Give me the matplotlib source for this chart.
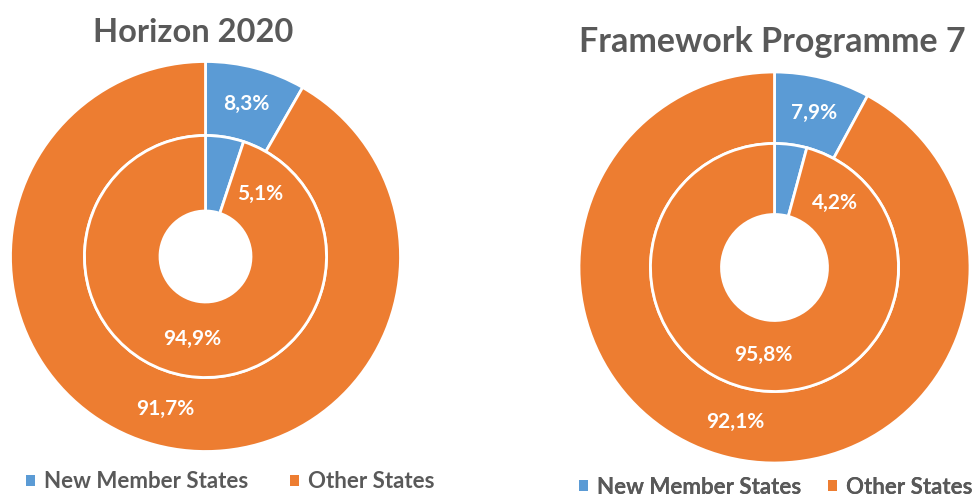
import numpy as np
import matplotlib
matplotlib.use("Agg")
import matplotlib.pyplot as plt
from matplotlib.patches import Patch

plt.rcParams['font.family'] = ['Lato', 'DejaVu Sans']

categories = ['New Member States', 'Other States']
titles = ['Horizon 2020', 'Framework Programme 7']
outer_vals = [[8.3, 91.7], [7.9, 92.1]]
inner_vals = [[5.1, 94.9], [4.2, 95.8]]

blue = '#5B9BD5'
orange = '#ED7D31'
grey = '#595959'

W, H = 979, 495
fig = plt.figure(figsize=(W / 100, H / 100), dpi=100)
ax = fig.add_axes([0, 0, 1, 1])

# layout per chart, in pixels (y measured from bottom)
centers = [(205.5, 495 - 256.5), (774.5, 495 - 267.5)]
r_outer = [195, 195.5]
r_mid = [121, 124]
r_hole = [45.5, 53]
title_pos = [(193, 495 - 42), (772, 495 - 52)]
title_size = [23.5, 24.5]
# small inner label was moved in the original, angle (deg, clockwise from top)
small_label_angle = [41, 43.5]
legend_pos = [(26, 495 - 482), (579, 495 - 487)]
legend_gap = [1.85, 1.2]


def fmt(v):
    return f"{v:.1f}".replace('.', ',') + '%'


def put_label(wedge, c, r, text, angle=None):
    if angle is None:
        a = np.deg2rad((wedge.theta1 + wedge.theta2) / 2)
    else:
        a = np.deg2rad(90 - angle)
    ax.text(c[0] + r * np.cos(a), c[1] + r * np.sin(a), text,
            ha='center', va='center', color='white', fontsize=15,
            fontweight='bold')


for i in range(2):
    c = centers[i]
    ow, _ = ax.pie(outer_vals[i], colors=[blue, orange], startangle=90,
                   counterclock=False, radius=r_outer[i], center=c,
                   wedgeprops=dict(width=r_outer[i] - r_mid[i],
                                   edgecolor='white', linewidth=2))
    iw, _ = ax.pie(inner_vals[i], colors=[blue, orange], startangle=90,
                   counterclock=False, radius=r_mid[i], center=c,
                   wedgeprops=dict(width=r_mid[i] - r_hole[i],
                                   edgecolor='white', linewidth=2))
    ro = (r_outer[i] + r_mid[i]) / 2
    ri = (r_mid[i] + r_hole[i]) / 2
    put_label(ow[0], c, ro, fmt(outer_vals[i][0]))
    put_label(ow[1], c, ro, fmt(outer_vals[i][1]))
    put_label(iw[0], c, ri, fmt(inner_vals[i][0]), small_label_angle[i])
    put_label(iw[1], c, ri, fmt(inner_vals[i][1]))

    ax.text(title_pos[i][0], title_pos[i][1], titles[i], ha='center',
            va='baseline', fontsize=title_size[i], fontweight='bold',
            color=grey)

    handles = [Patch(facecolor=blue), Patch(facecolor=orange)]
    leg = ax.legend(handles, categories, loc='center left',
                    bbox_to_anchor=legend_pos[i], bbox_transform=ax.transData,
                    ncol=2, frameon=False, handlelength=0.42,
                    handleheight=0.42, handletextpad=0.4,
                    columnspacing=legend_gap[i], borderpad=0,
                    borderaxespad=0, prop=dict(size=16, weight='bold'),
                    labelcolor=grey)
    ax.add_artist(leg)

ax.set_xlim(0, W)
ax.set_ylim(0, H)
ax.set_aspect('auto')
ax.axis('off')

fig.savefig('out.png', dpi=100)
